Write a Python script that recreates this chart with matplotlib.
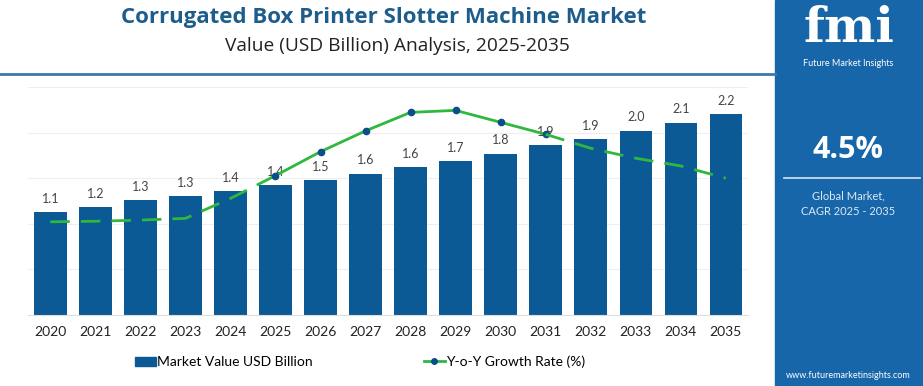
import numpy as np
import matplotlib
matplotlib.use('Agg')
import matplotlib.pyplot as plt
from matplotlib.patches import Rectangle
from matplotlib.lines import Line2D

years = ['2020', '2021', '2022', '2023', '2024', '2025', '2026', '2027',
         '2028', '2029', '2030', '2031', '2032', '2033', '2034', '2035']
market_value = [1.13, 1.18, 1.26, 1.30, 1.36, 1.42, 1.48, 1.55,
                1.62, 1.69, 1.77, 1.86, 1.93, 2.02, 2.11, 2.20]
yoy_growth = [3.27, 3.29, 3.33, 3.39, 4.09, 4.89, 5.73, 6.46,
              7.11, 7.18, 6.76, 6.34, 5.85, 5.50, 5.23, 4.80]

bar_color = '#0b5a96'
green = '#2eb83e'
dot_color = '#0b4f8a'
panel_color = '#1766a9'

fig = plt.figure(figsize=(9.23, 3.86), dpi=100)
W, H = 923, 386

ax = fig.add_axes([27.8 / W, 1 - 315 / H, 720.5 / W, 228 / H])
x = np.arange(len(years))
ax.bar(x, market_value, width=0.72, color=bar_color, zorder=2)
for xi, v in zip(x, market_value):
    ax.text(xi, v + 0.08, f'{v:.1f}', ha='center', va='bottom',
            fontsize=9, color='#444444', family='Lato', zorder=5)

ax.set_xlim(-0.5, 15.5)
ax.set_ylim(0, 2.5)
ax.set_yticks(np.arange(0, 2.51, 0.5))
ax.grid(axis='y', color='#eeeeee', linewidth=0.8, zorder=0)
ax.set_xticks(x)
ax.set_xticklabels(years, family='Lato')
for s in ['top', 'right', 'left']:
    ax.spines[s].set_visible(False)
ax.spines['bottom'].set_color('#dddddd')

ax2 = ax.twinx()
ax2.set_ylim(0, 8)
ax2.axis('off')
ax.tick_params(axis='y', left=False, right=False, labelleft=False, labelright=False)
ax.tick_params(axis='x', length=0, pad=8, labelsize=10, labelcolor='#222222')
ax2.plot(x[:6], yoy_growth[:6], color=green, lw=2, dashes=(7, 4), zorder=4)
ax2.plot(x[5:12], yoy_growth[5:12], color=green, lw=2, marker='o',
         markersize=4.5, markerfacecolor=dot_color, markeredgecolor=dot_color, zorder=4)
ax2.plot(x[11:], yoy_growth[11:], color=green, lw=2, dashes=(7, 4), zorder=4)

# legend
handles = [Rectangle((0, 0), 1, 1, color=bar_color),
           Line2D([0], [0], color=green, lw=2, marker='o', markersize=4,
                  markerfacecolor=dot_color, markeredgecolor=dot_color)]
fig.legend(handles, ['Market Value USD Billion', 'Y-o-Y Growth Rate (%)'],
           loc='center', bbox_to_anchor=(360 / W, 1 - 362 / H), ncol=2,
           frameon=False, columnspacing=8, handlelength=1.5,
           handletextpad=0.1, prop={'family': 'Lato', 'size': 10})

# titles
fig.text(384 / W, 1 - 17 / H, 'Corrugated Box Printer Slotter Machine Market',
         ha='center', va='center', fontsize=16, fontweight='bold',
         color='#1d5d8c', family='Open Sans')
fig.text(397 / W, 1 - 46 / H, 'Value (USD Billion) Analysis, 2025-2035',
         ha='center', va='center', fontsize=13.8, color='#222222', family='Open Sans')
fig.add_artist(Line2D([0, 775 / W], [1 - 74 / H, 1 - 74 / H],
                      color='#3a78ad', lw=2))

# right panel
fig.patches.append(Rectangle((775 / W, 0), 148 / W, 1, transform=fig.transFigure,
                             color=panel_color, zorder=0))
fig.text(849 / W, 1 - 29 / H, 'fmi', ha='center', va='center', fontsize=35,
         fontweight='bold', color='white', family='DejaVu Serif')
fig.text(848 / W, 1 - 63 / H, 'Future Market Insights', ha='center', va='center',
         fontsize=6.5, color='white', family='Lato')
fig.text(848 / W, 1 - 150 / H, '4.5%', ha='center', va='center', fontsize=22,
         fontweight='bold', color='white', family='Open Sans')
fig.add_artist(Line2D([784 / W, 920 / W], [1 - 178 / H, 1 - 178 / H],
                      color='#d8e6f3', lw=1.2))
fig.text(848 / W, 1 - 196 / H, 'Global Market,', ha='center', va='center',
         fontsize=8, color='#dce8f4', family='Lato')
fig.text(848 / W, 1 - 211 / H, 'CAGR 2025 - 2035', ha='center', va='center',
         fontsize=8, color='#dce8f4', family='Lato')
fig.text(848 / W, 1 - 375 / H, 'www.futuremarketinsights.com', ha='center',
         va='center', fontsize=6.5, color='white', family='Lato')

plt.savefig('out.png', dpi=100)
